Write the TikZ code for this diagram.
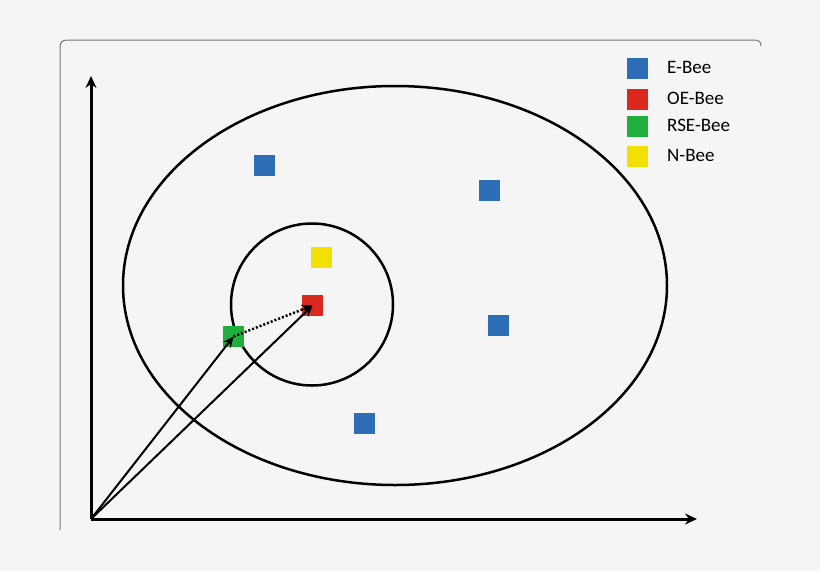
\documentclass[tikz,border=0pt]{standalone}
\usepackage{fontspec}
\setmainfont{Carlito}
\usetikzlibrary{arrows.meta}
\definecolor{ebee}{RGB}{46,110,182}
\definecolor{oebee}{RGB}{218,40,30}
\definecolor{rsebee}{RGB}{30,176,58}
\definecolor{nbee}{RGB}{242,224,0}
\tikzset{
  bee/.style={fill=#1,minimum size=21pt,inner sep=0pt},
  axis/.style={line width=3pt,-{Stealth[length=12pt,width=11pt,inset=4pt]}},
  vec/.style={line width=2pt,-{Stealth[length=11pt,width=10pt,inset=4pt]}}
}
\begin{document}
\begin{tikzpicture}[x=1pt,y=-1pt,font=\fontsize{19}{21}\selectfont]

      \fill [black!4] (0,0) rectangle (820,571);
      \useasboundingbox (0,0) rectangle (820,571);
      \draw [black!55,line width=1pt] (60,530) -- (60,48)
        .. controls (60,42) and (62,40) .. (68,40) -- (756,40)
        .. controls (759,40) and (761,42) .. (761,46);

      % axes
      \coordinate (o) at (91,519);
      \coordinate (ytip) at (91,76);
      \coordinate (xtip) at (697,519);
      \draw [axis] (o) -- (ytip);
      \draw [axis] (o) -- (xtip);

      \draw [line width=2.5pt] (395,285.5) ellipse [x radius=272, y radius=199.5];
      \draw [line width=2.5pt] (312,304.5) circle [radius=81];

      \foreach \p [count=\i] in {(264,165),(489,190),(498,325),(364,423)}
        \node [bee=ebee] (e\i) at \p {};
      \node [bee=nbee] (n) at (321.5,257.5) {};
      \node [bee=oebee] (oe) at (312.5,305.5) {};
      \node [bee=rsebee] (rse) at (233.5,336.5) {};

      \draw [vec] (o) -- (rse.center);
      \draw [vec] (o) -- (oe.center);
      \draw [vec,dash pattern=on 2pt off 2pt,line width=2.5pt] (rse.center) -- (oe.center);

      % legend
      \foreach \c/\t/\y in {ebee/E-Bee/68.5,oebee/OE-Bee/99.5,rsebee/RSE-Bee/126,nbee/N-Bee/156.5}
      {
        \node [bee=\c] (k-\t) at (637.5,\y) {};
        \node [anchor=west,inner sep=0pt] (l-\t) at (667,\y-1) {\t};
      }

    \end{tikzpicture}
\end{document}
